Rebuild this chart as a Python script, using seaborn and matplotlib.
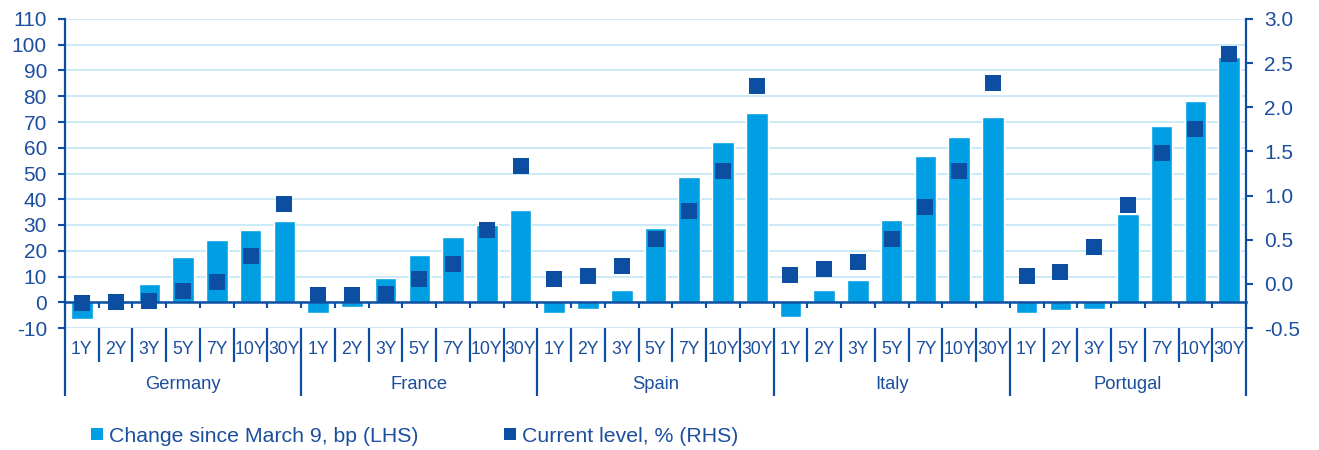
import numpy as np
import pandas as pd
import matplotlib
matplotlib.use("Agg")
import matplotlib.pyplot as plt
from matplotlib.lines import Line2D
from matplotlib.ticker import FixedLocator, FuncFormatter
import seaborn as sns

# Sovereign yield curves by country and maturity
countries = ["Germany", "France", "Spain", "Italy", "Portugal"]
tenors = ["1Y", "2Y", "3Y", "5Y", "7Y", "10Y", "30Y"]

# Change since March 9, basis points (left axis)
change_germany = [-6.5, -0.5, 7.0, 17.5, 24.0, 27.9, 31.6]
change_france = [-4.2, -1.9, 9.6, 18.5, 25.3, 29.9, 35.8]
change_spain = [-4.0, -2.5, 4.8, 28.9, 48.8, 62.4, 73.5]
change_italy = [-5.7, 4.7, 8.5, 31.9, 56.9, 64.1, 72.1]
change_portugal = [-4.3, -2.9, -2.6, 34.2, 68.6, 78.0, 95.1]

# Current yield level, percent (right axis)
level_germany = [-0.22, -0.21, -0.19, -0.08, 0.02, 0.32, 0.90]
level_france = [-0.13, -0.13, -0.12, 0.05, 0.23, 0.61, 1.34]
level_spain = [0.06, 0.09, 0.20, 0.51, 0.82, 1.28, 2.24]
level_italy = [0.10, 0.17, 0.25, 0.51, 0.87, 1.28, 2.27]
level_portugal = [0.09, 0.13, 0.42, 0.89, 1.48, 1.75, 2.60]

left_ticks = list(range(-10, 111, 10))
right_ticks = [-0.5, 0.0, 0.5, 1.0, 1.5, 2.0, 2.5, 3.0]

legend_change = "Change since March 9, bp (LHS)"
legend_level = "Current level, % (RHS)"

change = [change_germany, change_france, change_spain, change_italy, change_portugal]
level = [level_germany, level_france, level_spain, level_italy, level_portugal]

df = pd.DataFrame(
    [
        {"country": c, "tenor": t, "key": f"{c} {t}", "change": ch[j], "level": lv[j]}
        for c, ch, lv in zip(countries, change, level)
        for j, t in enumerate(tenors)
    ]
)
order = list(df["key"])
n = len(order)
pos = np.arange(n)

BAR = "#009FE3"
DARK = "#0B4EA2"
TEXT = "#1C4E9E"
GRID = "#C2E7F7"

sns.set_theme(style="white")
plt.rcParams["font.family"] = ["Liberation Sans", "DejaVu Sans"]
plt.rcParams["axes.unicode_minus"] = False

fig = plt.figure(figsize=(13.19, 4.5), dpi=100)
ax = fig.add_axes([65 / 1319, 122 / 450, (1246 - 65) / 1319, 309 / 450])

sns.barplot(data=df, x="key", y="change", order=order, color=BAR,
            saturation=1, width=0.64, ax=ax, zorder=2)

ax2 = ax.twinx()
sns.scatterplot(x=pos, y=df["level"].to_numpy(), ax=ax2, marker="s", s=120,
                color=DARK, linewidth=0, legend=False, zorder=5)

# Left axis
ax.set_ylim(-10, 110)
ax.yaxis.set_major_locator(FixedLocator(left_ticks))
ax.yaxis.set_major_formatter(FuncFormatter(lambda v, p: f"{v:.0f}"))
ax.grid(axis="y", color=GRID, linewidth=1.2)
ax.grid(axis="x", visible=False)
ax.set_axisbelow(True)
ax.tick_params(axis="y", which="major", direction="out", length=5, width=1.5,
               color=DARK, labelcolor=TEXT, labelsize=15, pad=8, left=True)
ax.set_xlabel("")
ax.set_ylabel("")

# Right axis
ax2.set_ylim(-0.5, 3.0)
ax2.yaxis.set_major_locator(FixedLocator(right_ticks))
ax2.yaxis.set_major_formatter(FuncFormatter(lambda v, p: f"{v:.1f}"))
ax2.tick_params(axis="y", which="major", direction="out", length=5, width=1.5,
                color=DARK, labelcolor=TEXT, labelsize=15, pad=8, right=True)
ax2.set_xlabel("")
ax2.set_ylabel("")
ax2.grid(False)

ax.set_xlim(-0.5, n - 0.5)

for s in ["top", "right"]:
    ax.spines[s].set_visible(False)
for s in ["top", "left", "bottom"]:
    ax2.spines[s].set_visible(False)
ax.spines["left"].set_color(DARK)
ax.spines["left"].set_linewidth(1.6)
ax2.spines["right"].set_color(DARK)
ax2.spines["right"].set_linewidth(1.6)

# Zero line with small ticks between maturities
ax.spines["bottom"].set_position(("data", 0))
ax.spines["bottom"].set_color(DARK)
ax.spines["bottom"].set_linewidth(1.8)
ax.spines["bottom"].set_zorder(4)
ax.xaxis.set_major_locator(FixedLocator(pos))
ax.xaxis.set_minor_locator(FixedLocator(np.arange(n + 1) - 0.5))
ax.tick_params(axis="x", which="major", length=0, labelbottom=False)
ax.tick_params(axis="x", which="minor", bottom=True, direction="out",
               length=4, width=1.5, color=DARK)

# Maturity and country labels beneath the plot
trans = ax.get_xaxis_transform()
for i, t in enumerate(df["tenor"]):
    ax.text(i, -0.071, t, transform=trans, ha="center", va="center",
            fontsize=12.7, color=TEXT, clip_on=False)
n_ten = len(tenors)
for g, c in enumerate(countries):
    ax.text(g * n_ten + (n_ten - 1) / 2, -0.184, c, transform=trans,
            ha="center", va="center", fontsize=13.2, color=TEXT, clip_on=False)
for b in range(n + 1):
    bottom = -0.22 if b % n_ten == 0 else -0.11
    ax.plot([b - 0.5, b - 0.5], [0, bottom], transform=trans, color=DARK,
            linewidth=1.6, clip_on=False, solid_capstyle="butt")

handles = [
    Line2D([], [], linestyle="none", marker="s", markersize=9,
           markerfacecolor=BAR, markeredgewidth=0, label=legend_change),
    Line2D([], [], linestyle="none", marker="s", markersize=9,
           markerfacecolor=DARK, markeredgewidth=0, label=legend_level),
]
fig.legend(handles=handles, loc="center left", bbox_to_anchor=(90 / 1319, 14 / 450),
           ncol=2, frameon=False, fontsize=15.3, labelcolor=TEXT,
           handlelength=0.7, handletextpad=0.2, columnspacing=3.95,
           borderaxespad=0, borderpad=0)

fig.savefig("out.png", dpi=100)
